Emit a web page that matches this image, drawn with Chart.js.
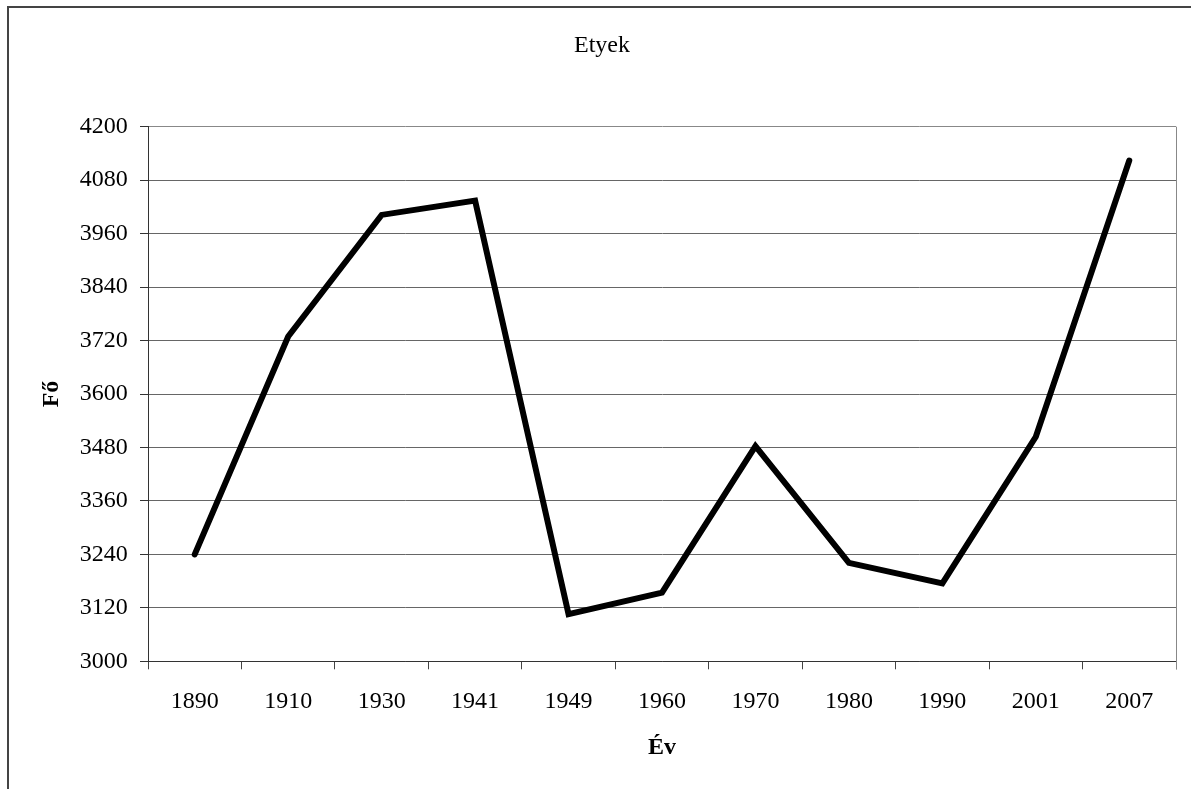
<!DOCTYPE html>
<html>
<head>
<meta charset="utf-8">
<script src="https://cdn.jsdelivr.net/npm/chart.js@4.4.1/dist/chart.umd.min.js"></script>
<style>
  html, body { margin: 0; padding: 0; background: #fff; }
  #wrap { width: 1191px; height: 789px; position: relative; }
</style>
</head>
<body>
<div id="wrap"><canvas id="c" width="1191" height="789"></canvas></div>
<script>
const years = ['1890', '1910', '1930', '1941', '1949', '1960', '1970', '1980', '1990', '2001', '2007'];
const population = [3240, 3729, 4002, 4034, 3106, 3154, 3483, 3221, 3175, 3504, 4124];
const yMin = 3000;
const yMax = 4200;
const yStep = 120;
const chartTitle = 'Etyek';
const xTitle = 'Év';
const yTitle = 'Fő';

const FONT = "'Liberation Serif', 'Times New Roman', serif";
Chart.defaults.font.family = FONT;
Chart.defaults.color = '#000';

const framePlugin = {
  id: 'frame',
  beforeDraw(chart) {
    const ctx = chart.ctx;
    ctx.save();
    ctx.fillStyle = '#fff';
    ctx.fillRect(0, 0, chart.width, chart.height);
    ctx.strokeStyle = '#444';
    ctx.lineWidth = 2;
    ctx.beginPath();
    ctx.moveTo(8, chart.height + 5);
    ctx.lineTo(8, 7);
    ctx.lineTo(chart.width + 5, 7);
    ctx.stroke();
    ctx.restore();
  },
  afterDatasetsDraw(chart) {},
  beforeDatasetsDraw(chart) {
    const a = chart.chartArea;
    const ctx = chart.ctx;
    ctx.save();
    ctx.strokeStyle = '#888';
    ctx.lineWidth = 1;
    ctx.beginPath();
    ctx.moveTo(Math.round(a.right) + 0.5, a.top);
    ctx.lineTo(Math.round(a.right) + 0.5, a.bottom + 8);
    ctx.stroke();
    ctx.restore();
  }
};

new Chart(document.getElementById('c'), {
  type: 'line',
  data: {
    labels: years,
    datasets: [{
      data: population,
      borderColor: '#000',
      borderWidth: 6,
      borderCapStyle: 'round',
      borderJoinStyle: 'miter',
      pointRadius: 0,
      pointHoverRadius: 0,
      tension: 0,
      fill: false
    }]
  },
  options: {
    responsive: false,
    animation: false,
    devicePixelRatio: 1,
    layout: { padding: { left: 28, right: 15, top: 0, bottom: 0 } },
    plugins: {
      legend: { display: false },
      tooltip: { enabled: false },
      title: {
        display: true,
        text: chartTitle,
        color: '#000',
        font: { family: FONT, size: 24, weight: 'normal' },
        padding: { top: 31.6, bottom: 66.3 }
      }
    },
    scales: {
      x: {
        offset: true,
        grid: {
          offset: true,
          drawOnChartArea: false,
          drawTicks: true,
          tickLength: 8,
          color: '#444',
          tickColor: '#444'
        },
        border: { display: true, color: '#333', width: 1 },
        ticks: {
          padding: 17.7,
          maxRotation: 0,
          autoSkip: false,
          color: '#000',
          font: { family: FONT, size: 24 }
        },
        title: {
          display: true,
          text: xTitle,
          color: '#000',
          font: { family: FONT, size: 24, weight: 'bold' },
          padding: { top: 0, bottom: 26.6 }
        },
        afterFit(scale) { scale.height = 127.7; }
      },
      y: {
        min: yMin,
        max: yMax,
        grid: {
          drawOnChartArea: true,
          drawTicks: true,
          tickLength: 8,
          color: (ctx) => (ctx.tick && ctx.tick.value === yMax) ? '#888' : '#666',
          tickColor: '#333'
        },
        border: { display: true, color: '#333', width: 1 },
        ticks: {
          stepSize: yStep,
          padding: 12.3,
          color: '#000',
          font: { family: FONT, size: 24 },
          callback: (v) => String(v)
        },
        title: {
          display: true,
          text: yTitle,
          color: '#000',
          font: { family: FONT, size: 24, weight: 'bold' },
          padding: { top: 9.6, bottom: 0 }
        },
        afterFit(scale) { scale.width = 120; }
      }
    }
  },
  plugins: [framePlugin]
});
</script>
</body>
</html>
